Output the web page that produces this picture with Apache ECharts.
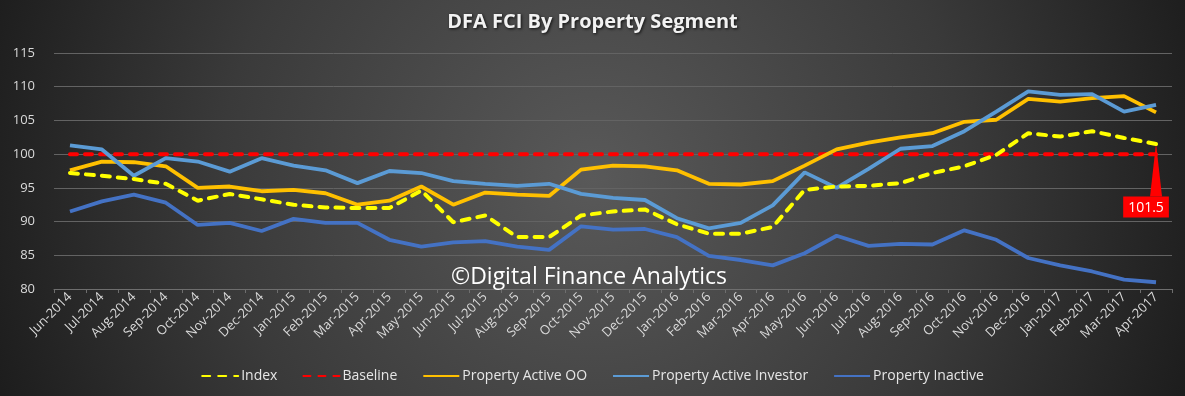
<!DOCTYPE html>
<html>
<head>
    <meta charset="utf-8"/>
    <script src="https://cdn.jsdelivr.net/npm/echarts@6/dist/echarts.min.js"></script>
    <style>
        html, body { margin: 0; padding: 0; }
        #container { width: 1185px; height: 396px; }
    </style>
</head>
<body>
<div id="container"></div>
<script type="text/javascript">
    var months = ['Jun-2014', 'Jul-2014', 'Aug-2014', 'Sep-2014', 'Oct-2014', 'Nov-2014', 'Dec-2014',
        'Jan-2015', 'Feb-2015', 'Mar-2015', 'Apr-2015', 'May-2015', 'Jun-2015', 'Jul-2015', 'Aug-2015',
        'Sep-2015', 'Oct-2015', 'Nov-2015', 'Dec-2015', 'Jan-2016', 'Feb-2016', 'Mar-2016', 'Apr-2016',
        'May-2016', 'Jun-2016', 'Jul-2016', 'Aug-2016', 'Sep-2016', 'Oct-2016', 'Nov-2016', 'Dec-2016',
        'Jan-2017', 'Feb-2017', 'Mar-2017', 'Apr-2017'];

    var index = [97.2, 96.8, 96.3, 95.6, 93.1, 94.1, 93.3, 92.5, 92.1, 92.0, 92.0, 94.6, 89.9, 90.9, 87.7,
        87.7, 90.9, 91.5, 91.8, 89.6, 88.2, 88.2, 89.2, 94.7, 95.2, 95.3, 95.7, 97.2, 98.2, 99.9, 103.1,
        102.6, 103.4, 102.4, 101.5];

    var baseline = [100, 100, 100, 100, 100, 100, 100, 100, 100, 100, 100, 100, 100, 100, 100, 100, 100,
        100, 100, 100, 100, 100, 100, 100, 100, 100, 100, 100, 100, 100, 100, 100, 100, 100, 100];

    var activeOO = [97.6, 98.9, 98.8, 98.2, 95.0, 95.2, 94.5, 94.7, 94.2, 92.5, 93.1, 95.2, 92.5, 94.3, 94.0,
        93.8, 97.7, 98.3, 98.2, 97.6, 95.6, 95.5, 96.0, 98.3, 100.7, 101.7, 102.5, 103.1, 104.8, 105.1, 108.2,
        107.8, 108.3, 108.6, 106.2];

    var activeInvestor = [101.3, 100.7, 96.8, 99.4, 98.9, 97.4, 99.4, 98.3, 97.6, 95.7, 97.5, 97.2, 96.0, 95.6, 95.3,
        95.6, 94.1, 93.5, 93.2, 90.5, 89.0, 89.8, 92.4, 97.3, 95.0, 97.8, 100.8, 101.2, 103.4, 106.3, 109.3,
        108.8, 108.9, 106.3, 107.3];

    var inactive = [91.5, 93.0, 94.0, 92.8, 89.5, 89.8, 88.6, 90.4, 89.8, 89.8, 87.3, 86.3, 86.9, 87.1, 86.3,
        85.8, 89.3, 88.8, 88.9, 87.7, 84.9, 84.3, 83.5, 85.3, 87.9, 86.4, 86.7, 86.6, 88.7, 87.3, 84.6,
        83.5, 82.6, 81.4, 81.0];

    var lastIdx = months.length - 1;
    var fontName = '"Open Sans", "Noto Sans", sans-serif';

    var dom = document.getElementById("container");
    var myChart = echarts.init(dom, null, {renderer: 'canvas'});
    var option = {
        animation: false,
        backgroundColor: {
            type: 'radial', x: 0.5, y: 0.45, r: 1.7,
            colorStops: [
                {offset: 0, color: '#595959'},
                {offset: 0.55, color: '#3a3a3a'},
                {offset: 1, color: '#181818'}
            ]
        },
        title: {
            text: 'DFA FCI By Property Segment',
            left: 'center',
            top: 7,
            textStyle: {
                color: '#f2f2f2',
                fontFamily: fontName,
                fontWeight: 'bold',
                fontSize: 20,
                textShadowColor: 'rgba(0,0,0,0.8)',
                textShadowBlur: 3,
                textShadowOffsetX: 1,
                textShadowOffsetY: 1
            }
        },
        legend: {
            bottom: 8,
            left: 'center',
            itemWidth: 36,
            itemHeight: 10,
            itemGap: 25,
            itemStyle: {opacity: 0},
            textStyle: {color: '#e6e6e6', fontFamily: fontName, fontSize: 14, padding: [0, 0, 0, -2]},
            data: ['Index', 'Baseline', 'Property Active OO', 'Property Active Investor', 'Property Inactive']
        },
        grid: {left: 54, right: 13, top: 53, bottom: 107},
        xAxis: {
            type: 'category',
            data: months,
            boundaryGap: true,
            axisLine: {lineStyle: {color: '#6e6e6e'}},
            axisTick: {show: true, length: 4, lineStyle: {color: '#6e6e6e'}},
            axisLabel: {color: '#d9d9d9', fontFamily: fontName, fontSize: 13, rotate: 45, interval: 0, margin: 6}
        },
        yAxis: {
            type: 'value',
            min: 80,
            max: 115,
            interval: 5,
            axisLine: {show: false},
            axisTick: {show: false},
            axisLabel: {color: '#d9d9d9', fontFamily: fontName, fontSize: 13, margin: 19},
            splitLine: {lineStyle: {color: '#636363', width: 1}}
        },
        graphic: [{
            type: 'text',
            left: 451,
            top: 266,
            z: 100,
            style: {
                text: '©Digital Finance Analytics',
                fill: '#ffffff',
                font: '23px "Open Sans", sans-serif'
            }
        }],
        series: [
            {
                name: 'Index',
                type: 'line',
                data: index,
                z: 6,
                showSymbol: false,
                symbol: 'none',
                lineStyle: {color: '#ffff00', width: 4, type: [8, 8], cap: 'round'},
                itemStyle: {color: '#ffff00'},
                markPoint: {
                    symbol: 'triangle',
                    symbolSize: [12, 53],
                    symbolOffset: [0, 26],
                    itemStyle: {color: '#ff0000'},
                    label: {
                        show: true,
                        position: 'bottom',
                        distance: 0,
                        offset: [-10, 0],
                        formatter: function (p) { return p.value.toFixed(1); },
                        color: '#ffffff',
                        fontFamily: fontName,
                        fontSize: 14,
                        backgroundColor: '#ff0000',
                        padding: [4, 5, 3, 5]
                    },
                    data: [{coord: [months[lastIdx], index[lastIdx]], value: index[lastIdx]}]
                }
            },
            {
                name: 'Baseline',
                type: 'line',
                data: baseline,
                z: 2,
                showSymbol: false,
                symbol: 'none',
                lineStyle: {color: '#ff0000', width: 4, type: [7, 8], cap: 'round'},
                itemStyle: {color: '#ff0000'}
            },
            {
                name: 'Property Active OO',
                type: 'line',
                data: activeOO,
                z: 3,
                showSymbol: false,
                symbol: 'none',
                lineStyle: {color: '#ffc000', width: 3.8},
                itemStyle: {color: '#ffc000'}
            },
            {
                name: 'Property Active Investor',
                type: 'line',
                data: activeInvestor,
                z: 4,
                showSymbol: false,
                symbol: 'none',
                lineStyle: {color: '#5b9bd5', width: 3.8},
                itemStyle: {color: '#5b9bd5'}
            },
            {
                name: 'Property Inactive',
                type: 'line',
                data: inactive,
                z: 5,
                showSymbol: false,
                symbol: 'none',
                lineStyle: {color: '#4472c4', width: 3.8},
                itemStyle: {color: '#4472c4'}
            }
        ]
    };

    myChart.setOption(option, true);
</script>
</body>
</html>
